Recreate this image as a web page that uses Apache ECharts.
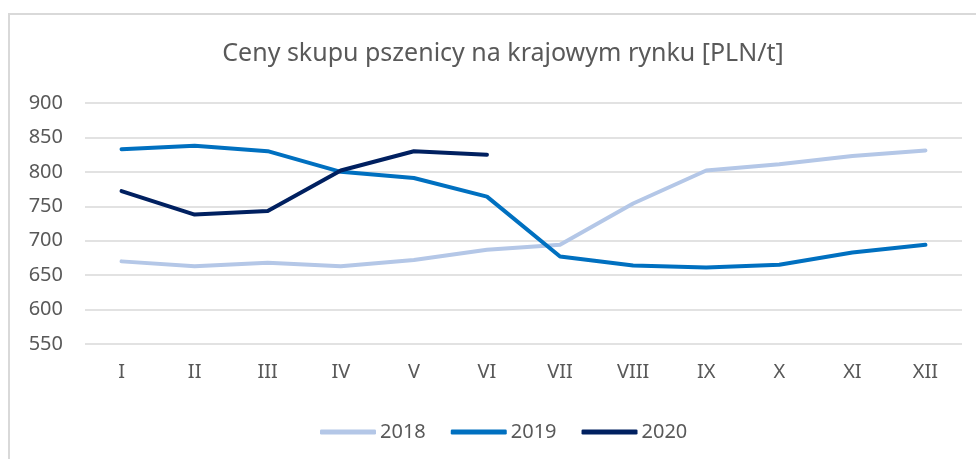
<!DOCTYPE html>
<html>
<head>
<meta charset="utf-8">
<script src="https://cdn.jsdelivr.net/npm/echarts@6/dist/echarts.min.js"></script>
<style>
    html, body { margin: 0; padding: 0; background: #fff; }
    #chart { width: 976px; height: 459px; }
    #frame {
        position: absolute; left: 8px; top: 13px; width: 980px; height: 460px;
        border-top: 2px solid #d9d9d9; border-left: 2px solid #d9d9d9;
        pointer-events: none;
    }
</style>
</head>
<body>
<div id="chart"></div>
<div id="frame"></div>
<script>
const months = ['I', 'II', 'III', 'IV', 'V', 'VI', 'VII', 'VIII', 'IX', 'X', 'XI', 'XII'];
const prices2018 = [670, 663, 668, 663, 672, 687, 694, 754, 802, 811, 823, 831];
const prices2019 = [833, 838, 830, 800, 791, 764, 677, 664, 661, 665, 683, 694];
const prices2020 = [772, 738, 743, 802, 830, 825];

const font = 'Noto Sans';

const makeLine = (name, data, color) => ({
    name: name,
    type: 'line',
    data: data,
    showSymbol: false,
    symbol: 'none',
    lineStyle: { width: 4, color: color, cap: 'round', join: 'round' },
    itemStyle: { color: color }
});

const chartOptions = {
    animation: false,
    title: {
        text: 'Ceny skupu pszenicy na krajowym rynku [PLN/t]',
        left: 498,
        top: 36,
        textAlign: 'center',
        textStyle: { fontFamily: font, fontSize: 25, fontWeight: 'normal', color: '#595959' }
    },
    legend: {
        top: 417,
        left: 315,
        icon: 'roundRect',
        itemWidth: 56,
        itemHeight: 5,
        itemGap: 25,
        textStyle: { fontFamily: font, fontSize: 20, color: '#595959', padding: [0, 0, 0, -1] },
        data: ['2018', '2019', '2020']
    },
    grid: { left: 85, right: 14, top: 103, bottom: 115 },
    xAxis: {
        type: 'category',
        data: months,
        boundaryGap: true,
        axisLine: { show: false },
        axisTick: { show: false },
        axisLabel: { fontFamily: font, fontSize: 20, color: '#595959', margin: 18 }
    },
    yAxis: {
        type: 'value',
        min: 550,
        max: 900,
        interval: 50,
        axisLine: { show: false },
        axisTick: { show: false },
        axisLabel: { fontFamily: font, fontSize: 20, color: '#595959', margin: 22 },
        splitLine: { lineStyle: { color: '#d9d9d9', width: 1.5 } }
    },
    series: [
        makeLine('2018', prices2018, '#b4c7e7'),
        makeLine('2019', prices2019, '#0070c0'),
        makeLine('2020', prices2020, '#002060')
    ]
};

const chart = window.echarts.init(document.getElementById('chart'));
chart.setOption(chartOptions);
</script>
</body>
</html>
